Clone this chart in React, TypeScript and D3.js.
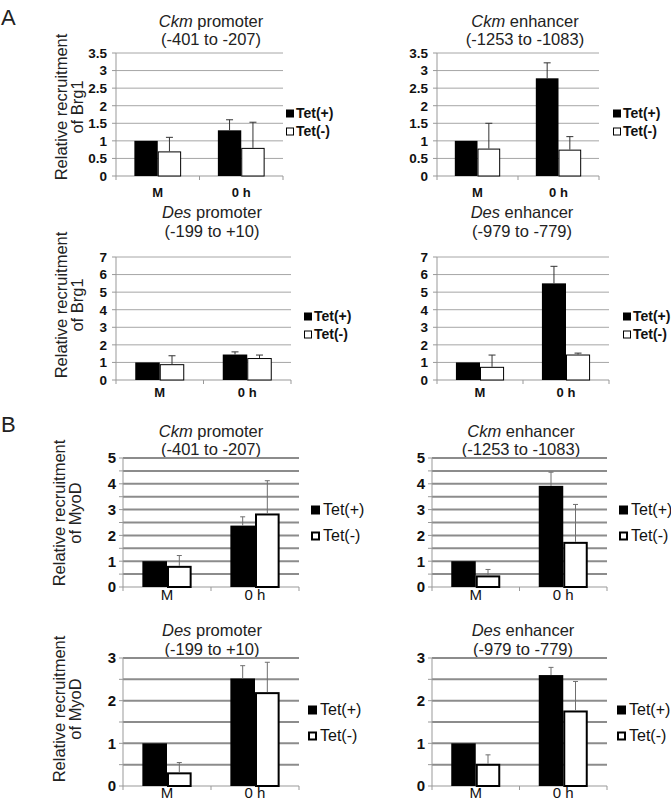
import React from "react";
import * as d3 from "d3";

// ---------- DATA ----------
const categories = ["M", "0 h"];
const seriesNames = ["Tet(+)", "Tet(-)"];

const panelGenes = ["Ckm", "Ckm", "Des", "Des", "Ckm", "Ckm", "Des", "Des"];
const panelRegions = ["promoter", "enhancer", "promoter", "enhancer", "promoter", "enhancer", "promoter", "enhancer"];
const panelRanges = [
  "(-401 to -207)", "(-1253 to -1083)", "(-199 to +10)", "(-979 to -779)",
  "(-401 to -207)", "(-1253 to -1083)", "(-199 to +10)", "(-979 to -779)",
];
const yMaxes = [3.5, 3.5, 7, 7, 5, 5, 3, 3];
const tickSteps = [0.5, 0.5, 1, 1, 1, 1, 1, 1];
const gridSteps = [0.5, 0.5, 1, 1, 0.5, 0.5, 0.5, 0.5];

// Tet(+) values / errors, Tet(-) values / errors, per panel [M, 0 h]
const tetPlus = [
  [1.0, 1.3], [1.0, 2.78], [1.0, 1.45], [1.0, 5.5],
  [1.0, 2.38], [1.0, 3.92], [1.0, 2.52], [1.0, 2.6],
];
const tetPlusErr = [
  [0, 0.3], [0, 0.44], [0, 0.15], [0, 0.97],
  [0, 0.34], [0, 0.53], [0, 0.3], [0, 0.18],
];
const tetMinus = [
  [0.7, 0.8], [0.78, 0.75], [0.9, 1.25], [0.75, 1.45],
  [0.82, 2.85], [0.45, 1.75], [0.32, 2.2], [0.52, 1.77],
];
const tetMinusErr = [
  [0.4, 0.73], [0.72, 0.37], [0.48, 0.17], [0.67, 0.08],
  [0.4, 1.27], [0.23, 1.45], [0.23, 0.7], [0.21, 0.68],
];

const FONT = "'Liberation Sans', Arial, Helvetica, sans-serif";

type Layout = {
  x0: number; x1: number; yTop: number; yBot: number;
  titleX: number; titleY1: number; titleY2: number;
  legX: number; legY1: number; legY2: number;
  xLabY: number;
  style: "A" | "B";
};

const layouts: Layout[] = [
  { x0: 116, x1: 283, yTop: 53, yBot: 176, titleX: 211, titleY1: 26.5, titleY2: 45, legX: 286, legY1: 118, legY2: 136, xLabY: 197, style: "A" },
  { x0: 437, x1: 599, yTop: 53, yBot: 176, titleX: 525, titleY1: 26.5, titleY2: 45, legX: 613, legY1: 118, legY2: 136, xLabY: 197, style: "A" },
  { x0: 116, x1: 291, yTop: 257, yBot: 380, titleX: 212, titleY1: 218, titleY2: 236.5, legX: 304, legY1: 321, legY2: 339, xLabY: 397, style: "A" },
  { x0: 437, x1: 609, yTop: 257, yBot: 380, titleX: 522, titleY1: 218, titleY2: 236.5, legX: 623, legY1: 321, legY2: 339, xLabY: 397, style: "A" },
  { x0: 123, x1: 299, yTop: 458, yBot: 587, titleX: 211, titleY1: 436.5, titleY2: 455, legX: 311, legY1: 515, legY2: 541, xLabY: 600, style: "B" },
  { x0: 432, x1: 607, yTop: 458, yBot: 587, titleX: 521, titleY1: 436.5, titleY2: 455, legX: 619, legY1: 515, legY2: 541, xLabY: 600, style: "B" },
  { x0: 123, x1: 299, yTop: 658, yBot: 786, titleX: 212, titleY1: 636, titleY2: 654.5, legX: 308, legY1: 715, legY2: 741, xLabY: 798, style: "B" },
  { x0: 432, x1: 607, yTop: 658, yBot: 786, titleX: 523, titleY1: 636, titleY2: 654.5, legX: 617, legY1: 715, legY2: 741, xLabY: 798, style: "B" },
];

function Panel({ i }: { i: number }) {
  const L = layouts[i];
  const isA = L.style === "A";
  const yMax = yMaxes[i];
  const y = d3.scaleLinear().domain([0, yMax]).range([L.yBot, L.yTop]);
  const x = d3.scaleBand<string>().domain(categories).range([L.x0, L.x1]).paddingInner(0.44).paddingOuter(0.22);
  const xs = d3.scaleBand<string>().domain(seriesNames).range([0, x.bandwidth()]).padding(0);

  const ticks = d3.range(0, yMax + 1e-9, tickSteps[i]);
  const grids = d3.range(0, yMax + 1e-9, gridSteps[i]);
  const gridColor = isA ? "#a6a6a6" : "#8c8c8c";
  const gridW = isA ? 1 : 2;
  const axisColor = "#999";

  const vals = [tetPlus[i], tetMinus[i]];
  const errs = [tetPlusErr[i], tetMinusErr[i]];

  const tickFont = isA ? 13.5 : 15;
  const xLabFont = isA ? 13 : 15;
  const legFont = isA ? 14 : 16;
  const sq = isA ? 8 : 9;
  const tickOff = isA ? 9 : 7;

  return (
    <g>
      {/* title */}
      <text x={L.titleX} y={L.titleY1} textAnchor="middle" fontSize={16.5} fontFamily={FONT} fill="#222">
        <tspan fontStyle="italic">{panelGenes[i]}</tspan> {panelRegions[i]}
      </text>
      <text x={L.titleX} y={L.titleY2} textAnchor="middle" fontSize={16.5} fontFamily={FONT} fill="#222">
        {panelRanges[i]}
      </text>
      {/* gridlines */}
      {grids.filter((g) => g > 0).map((g) => (
        <line key={"g" + g} x1={L.x0} x2={L.x1} y1={y(g)} y2={y(g)} stroke={gridColor} strokeWidth={gridW} />
      ))}
      {/* y axis */}
      <line x1={L.x0} x2={L.x0} y1={L.yTop} y2={L.yBot} stroke={axisColor} strokeWidth={1} />
      {grids.map((g) => (
        <line key={"yt" + g} x1={L.x0 - 4} x2={L.x0} y1={y(g)} y2={y(g)} stroke={axisColor} strokeWidth={1} />
      ))}
      {ticks.map((t) => (
        <text key={"tl" + t} x={L.x0 - tickOff} y={y(t) + tickFont * 0.36} textAnchor="end" fontSize={tickFont} fontWeight="bold" fontFamily={FONT} fill="#111">
          {String(t)}
        </text>
      ))}
      {/* x axis */}
      <line x1={L.x0} x2={L.x1} y1={L.yBot} y2={L.yBot} stroke={axisColor} strokeWidth={1} />
      {[0, 1, 2].map((k) => (
        <line key={"xt" + k} x1={L.x0 + (L.x1 - L.x0) * k / 2} x2={L.x0 + (L.x1 - L.x0) * k / 2} y1={L.yBot} y2={L.yBot + 4} stroke={axisColor} strokeWidth={1} />
      ))}
      {categories.map((c) => (
        <text key={"xl" + c} x={(x(c) as number) + x.bandwidth() / 2} y={L.xLabY} textAnchor="middle" fontSize={xLabFont} fontWeight={isA ? "bold" : "normal"} fontFamily={FONT} fill="#111">
          {c}
        </text>
      ))}
      {/* bars */}
      {categories.map((c, ci) =>
        seriesNames.map((s, si) => {
          const bx = (x(c) as number) + (xs(s) as number);
          const bw = xs.bandwidth();
          const v = vals[si][ci];
          const black = si === 0;
          const sw = black ? 0 : isA ? 1 : 2;
          return (
            <rect key={c + s} x={bx + sw / 2} y={y(v) + sw / 2} width={bw - sw} height={y(0) - y(v) - sw / 2}
              fill={black ? "#000" : "#fff"} stroke={black ? "none" : "#000"} strokeWidth={sw} />
          );
        })
      )}
      {/* error bars */}
      {categories.map((c, ci) =>
        seriesNames.map((s, si) => {
          const e = errs[si][ci];
          if (e <= 0) return null;
          const cx = (x(c) as number) + (xs(s) as number) + xs.bandwidth() / 2;
          const v = vals[si][ci];
          const col = isA ? "#333" : "#6f6f6f";
          const cap = isA ? 3.5 : 2.5;
          return (
            <g key={"e" + c + s}>
              <line x1={cx} x2={cx} y1={y(v)} y2={y(v + e)} stroke={col} strokeWidth={1} />
              <line x1={cx - cap} x2={cx + cap} y1={y(v + e)} y2={y(v + e)} stroke={col} strokeWidth={1} />
            </g>
          );
        })
      )}
      {/* legend */}
      {seriesNames.map((s, si) => {
        const ly = si === 0 ? L.legY1 : L.legY2;
        const black = si === 0;
        const sw = black ? 0 : isA ? 1 : 2;
        return (
          <g key={"lg" + s}>
            <rect x={L.legX + sw / 2} y={ly - sq - 0.5 + sw / 2} width={sq - sw} height={sq - sw}
              fill={black ? "#000" : "#fff"} stroke={black ? "none" : "#000"} strokeWidth={sw} />
            <text x={L.legX + sq + (isA ? 2 : 3)} y={ly} fontSize={legFont} fontWeight={isA ? "bold" : "normal"} fontFamily={FONT} fill="#111">
              {s}
            </text>
          </g>
        );
      })}
    </g>
  );
}

function YLabel({ cy, x1, x2, line2 }: { cy: number; x1: number; x2: number; line2: string }) {
  return (
    <g>
      <text transform={`translate(${x1},${cy}) rotate(-90)`} textAnchor="middle" fontSize={16.5} fontFamily={FONT} fill="#222">
        Relative recruitment
      </text>
      <text transform={`translate(${x2},${cy}) rotate(-90)`} textAnchor="middle" fontSize={16.5} fontFamily={FONT} fill="#222">
        {line2}
      </text>
    </g>
  );
}

export default function App() {
  return (
    <svg width={671} height={800} style={{ position: "absolute", left: 0, top: 0, background: "#fff" }}>
      <rect x={0} y={0} width={671} height={800} fill="#fff" />
      <text x={1} y={25} fontSize={22} fontFamily={FONT} fill="#222">A</text>
      <text x={1} y={432} fontSize={22} fontFamily={FONT} fill="#222">B</text>
      <YLabel cy={107} x1={67} x2={83} line2="of Brg1" />
      <YLabel cy={305} x1={67} x2={83} line2="of Brg1" />
      <YLabel cy={513} x1={65} x2={81} line2="of MyoD" />
      <YLabel cy={709} x1={65} x2={81} line2="of MyoD" />
      {layouts.map((_, i) => (
        <Panel key={i} i={i} />
      ))}
    </svg>
  );
}
